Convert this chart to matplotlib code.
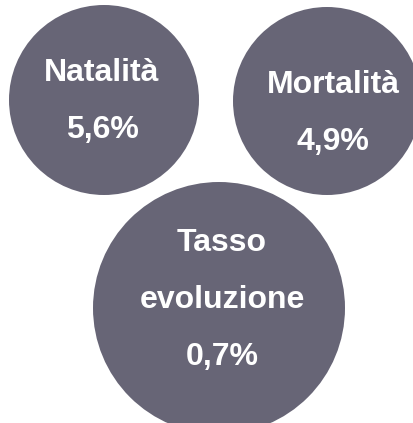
import matplotlib.pyplot as plt
from matplotlib.patches import Circle

# dati
etichette = ["Natalità", "Mortalità", "Tasso\nevoluzione"]
valori = [5.6, 4.9, 0.7]

# layout (pixel, asse y verso il basso)
centri = [(104, 100), (327, 101), (219, 308)]
raggi = [95, 94, 126]
testo_x = [102, 333, 222]
prima_base = [81, 93, 251]
interlinea = 57

colore = "#676576"

fig = plt.figure(figsize=(4.13, 4.23), dpi=100)
ax = fig.add_axes([0, 0, 1, 1])
ax.set_xlim(0, 413)
ax.set_ylim(423, 0)
ax.set_aspect("equal")
ax.axis("off")

for i in range(len(etichette)):
    ax.add_patch(Circle(centri[i], raggi[i], facecolor=colore, edgecolor="none"))
    righe = etichette[i].split("\n") + [f"{valori[i]:.1f}%".replace(".", ",")]
    for j, riga in enumerate(righe):
        ax.text(testo_x[i], prima_base[i] + j * interlinea, riga,
                ha="center", va="baseline", color="white",
                fontsize=23, fontweight="bold", family="Liberation Sans")

fig.savefig("out.png", dpi=100, facecolor="white")
